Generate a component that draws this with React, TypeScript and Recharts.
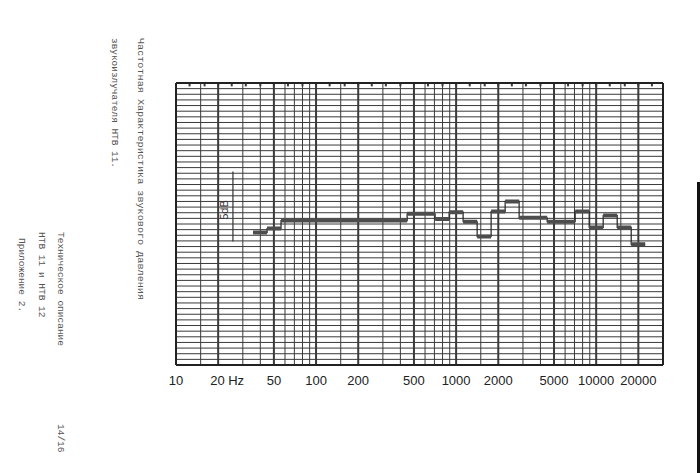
import React from "react";
import { LineChart, Line, XAxis, YAxis, ReferenceLine } from "recharts";

// ------------------------------------------------------------
// Frequency response of the HTB 11 sounder, 1/3-octave bands
// (scanned B&K style log paper, 10 Hz .. 30 kHz, 50 dB range)
// ------------------------------------------------------------

// band centres (Hz)
const bandCentres = [
  40, 50, 63, 80, 100, 125, 160, 200, 250, 315, 400, 500, 630, 800, 1000,
  1250, 1600, 2000, 2500, 3150, 4000, 5000, 6300, 8000, 10000, 12500, 16000,
  20000,
];
// band edges (Hz), one more than the centres
const bandEdges = [
  35.5, 44.7, 56.2, 70.8, 89.1, 112, 141, 178, 224, 282, 355, 447, 562, 708,
  891, 1122, 1413, 1778, 2239, 2818, 3548, 4467, 5623, 7079, 8913, 11220,
  14125, 17783, 22387,
];
// level in each band (dB on the paper, 0 = bottom line)
const bandLevels = [
  23.5, 24.2, 25.6, 25.6, 25.6, 25.6, 25.6, 25.6, 25.6, 25.6, 25.6, 26.8,
  26.8, 25.9, 27.1, 25.4, 22.8, 27.2, 29.0, 26.1, 26.1, 25.4, 25.4, 27.2,
  24.4, 26.5, 24.4, 21.4,
];

const axisTicks = [10, 20, 50, 100, 200, 500, 1000, 2000, 5000, 10000, 20000];
const tickLabels = ["10", "20 Hz", "50", "100", "200", "500", "1000", "2000", "5000", "10000", "20000"];

const gridFreqs = [
  15, 20, 30, 40, 50, 60, 70, 80, 90, 100, 150, 200, 300, 400, 500, 600, 700,
  800, 900, 1000, 1500, 2000, 3000, 4000, 5000, 6000, 7000, 8000, 9000, 10000,
  15000, 20000,
];
const majorFreqs = [20, 50, 100, 200, 500, 1000, 2000, 5000, 10000, 20000];
const notchFreqs = [
  12.5, 16, 20, 25, 31.5, 40, 50, 63, 80, 100, 125, 160, 200, 250, 315, 400,
  500, 630, 800, 1000, 1250, 1600, 2000, 2500, 3150, 4000, 5000, 6300, 8000,
  10000, 12500, 16000, 20000, 25000,
];
const gridLevels = Array.from({ length: 49 }, (_, i) => i + 1);

const fMin = 10;
const fMax = 30000;
const dbMin = 0;
const dbMax = 50;

// 5 dB scale mark
const markFreq = 25.5;
const markLevels = [21.9, 34.3];

// thin connecting step line
const stepData = bandEdges.map((f, i) => ({
  f,
  v: bandLevels[Math.min(i, bandLevels.length - 1)],
}));
// thick horizontal bars, broken between bands
const barData: { f: number; v: number | null }[] = [];
bandLevels.forEach((v, i) => {
  barData.push({ f: bandEdges[i], v });
  barData.push({ f: bandEdges[i + 1], v });
  barData.push({ f: bandEdges[i + 1], v: null });
});

const GRID = "#3a3a3a";
const TYPE_FONT = "'Liberation Mono', 'DejaVu Sans Mono', monospace";

function FreqTick(props: any) {
  const { x, y, payload } = props;
  const i = axisTicks.indexOf(payload.value);
  const label = i >= 0 ? tickLabels[i] : String(payload.value);
  const hz = label.includes("Hz");
  return (
    <text
      x={hz ? x - 8 : x}
      y={y}
      dy={12}
      textAnchor={hz ? "start" : "middle"}
      fontFamily="'Liberation Sans', Arial, sans-serif"
      fontSize={13}
      fill="#222"
    >
      {label}
    </text>
  );
}

function MarkLabel(props: any) {
  const vb = props.viewBox || { x: 0, y: 0, width: 0, height: 0 };
  const cx = vb.x - 5;
  const cy = vb.y + vb.height * 0.55;
  return (
    <text
      transform={`translate(${cx}, ${cy}) rotate(-90)`}
      textAnchor="middle"
      fontFamily="'Liberation Sans', Arial, sans-serif"
      fontSize={11}
      fill="#333"
    >
      5dB
    </text>
  );
}

function PageText() {
  const lines = [
    { x: 138, y: 38, len: 262, text: "Частотная Характеристика звукового давления" },
    { x: 112, y: 38, len: 130, text: "звукоизлучателя НТВ 11." },
    { x: 58, y: 232, len: 0, text: "Техническое описание" },
    { x: 39, y: 232, len: 0, text: "НТВ 11 и НТВ 12" },
    { x: 19, y: 238, len: 0, text: "Приложение 2." },
    { x: 58, y: 424, len: 0, text: "14/16" },
  ];
  return (
    <svg
      width={700}
      height={473}
      style={{ position: "absolute", left: 0, top: 0, pointerEvents: "none" }}
    >
      {lines.map((l) => (
        <text
          key={l.text}
          transform={`translate(${l.x}, ${l.y}) rotate(90)`}
          fontFamily={TYPE_FONT}
          fontSize={9.5}
          fill="#555"
          textLength={l.len || undefined}
          lengthAdjust={l.len ? "spacingAndGlyphs" : undefined}
        >
          {l.text}
        </text>
      ))}
    </svg>
  );
}

export default function App() {
  return (
    <div
      style={{
        position: "absolute",
        left: 0,
        top: 0,
        width: 700,
        height: 473,
        background: "#fff",
        overflow: "hidden",
      }}
    >
      <LineChart
        width={700}
        height={473}
        margin={{ top: 83, right: 37, bottom: 78, left: 176 }}
      >
        <XAxis
          dataKey="f"
          type="number"
          scale="log"
          domain={[fMin, fMax]}
          allowDataOverflow
          ticks={axisTicks}
          tick={<FreqTick />}
          tickLine={false}
          axisLine={false}
          height={30}
          interval={0}
        />
        <YAxis type="number" domain={[dbMin, dbMax]} hide allowDataOverflow />

        {gridLevels.map((d) => (
          <ReferenceLine key={`h${d}`} y={d} stroke={GRID} strokeWidth={1} />
        ))}
        {gridFreqs.map((f) => (
          <ReferenceLine
            key={`v${f}`}
            x={f}
            stroke={GRID}
            strokeWidth={majorFreqs.includes(f) ? 2 : 1}
          />
        ))}
        {notchFreqs.map((f) => (
          <ReferenceLine
            key={`n${f}`}
            segment={[
              { x: f, y: dbMax },
              { x: f, y: dbMax - 0.6 },
            ]}
            stroke={GRID}
            strokeWidth={2}
          />
        ))}
        <ReferenceLine x={fMin} stroke="#222" strokeWidth={2} />
        <ReferenceLine x={fMax} stroke="#222" strokeWidth={2} />
        <ReferenceLine y={dbMin} stroke="#222" strokeWidth={2} />
        <ReferenceLine y={dbMax} stroke="#222" strokeWidth={2} />

        <ReferenceLine
          segment={[
            { x: markFreq, y: markLevels[0] },
            { x: markFreq, y: markLevels[1] },
          ]}
          stroke="#333"
          strokeWidth={1.2}
          label={<MarkLabel />}
        />

        <Line
          data={stepData}
          dataKey="v"
          type="stepAfter"
          stroke="#222"
          strokeWidth={1.2}
          dot={false}
          isAnimationActive={false}
        />
        <Line
          data={barData}
          dataKey="v"
          type="linear"
          stroke="#4d4d4d"
          strokeWidth={4}
          dot={false}
          connectNulls={false}
          isAnimationActive={false}
        />
      </LineChart>
      <PageText />
      <div
        style={{
          position: "absolute",
          left: 697,
          top: 182,
          width: 3,
          height: 291,
          background: "#111",
        }}
      />
    </div>
  );
}
